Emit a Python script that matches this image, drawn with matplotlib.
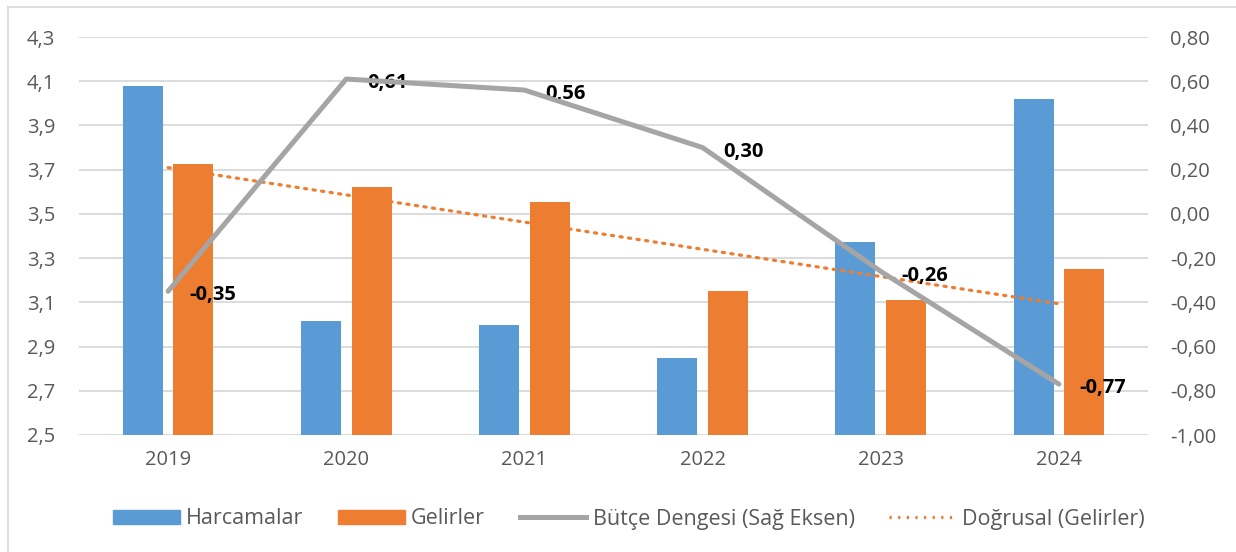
import matplotlib.pyplot as plt
import numpy as np
from matplotlib.ticker import FuncFormatter, FixedLocator
from matplotlib.lines import Line2D

years = ['2019', '2020', '2021', '2022', '2023', '2024']
harcamalar = [4.08, 3.015, 2.998, 2.85, 3.372, 4.02]
gelirler = [3.725, 3.62, 3.553, 3.15, 3.11, 3.25]
denge = [-0.35, 0.61, 0.56, 0.30, -0.26, -0.77]
denge_labels = ['-0,35', '0,61', '0,56', '0,30', '-0,26', '-0,77']

plt.rcParams['font.family'] = ['Open Sans', 'DejaVu Sans']
gray_txt = '#595959'
fs = 14.5
dots = (0, (0.7, 2.0))

fig = plt.figure(figsize=(12.36, 5.52), dpi=100)
ax = fig.add_axes([79/1236, 1-435/552, (1148-79)/1236, (435-37)/552])
ax2 = ax.twinx()

x = np.arange(len(years))
w = 0.225
ax.bar(x - 0.142, harcamalar, w, color='#5b9bd5', label='Harcamalar', zorder=2)
ax.bar(x + 0.142, gelirler, w, color='#ed7d31', label='Gelirler', zorder=2)

# linear trend of Gelirler
k, b = np.polyfit(x, gelirler, 1)
ax.plot(x, k*x + b, color='#ed7d31', lw=2.3, ls=dots,
        dash_capstyle='round', zorder=3)

ax2.plot(x, denge, color='#a5a5a5', lw=3.6, solid_capstyle='round', zorder=4)
for xi, yi, t in zip(x, denge, denge_labels):
    ax2.annotate(t, (xi, yi), xytext=(15, -3), textcoords='offset points',
                 ha='left', va='center', fontsize=fs, fontweight='bold',
                 color='black')

ax.set_xlim(-0.5, len(years) - 0.5)
ax.set_ylim(2.5, 4.3)
ax2.set_ylim(-1.0, 0.8)
ax.yaxis.set_major_locator(FixedLocator(np.linspace(2.5, 4.3, 10)))
ax2.yaxis.set_major_locator(FixedLocator(np.linspace(-1.0, 0.8, 10)))
ax.yaxis.set_major_formatter(FuncFormatter(lambda v, p: f'{v:.1f}'.replace('.', ',')))
ax2.yaxis.set_major_formatter(FuncFormatter(lambda v, p: f'{v:.2f}'.replace('.', ',')))
ax.set_xticks(x)
ax.set_xticklabels(years)

ax.grid(axis='y', color='#d9d9d9', lw=1.3, zorder=0)
ax.set_axisbelow(True)
for a in (ax, ax2):
    for s in a.spines.values():
        s.set_visible(False)
    a.tick_params(length=0, labelsize=fs, colors=gray_txt)
ax.tick_params(axis='y', pad=17)
ax.tick_params(axis='x', pad=11)
ax2.tick_params(axis='y', pad=16)
ax.set_zorder(ax2.get_zorder() - 1)
ax.patch.set_visible(False)

handles = [
    plt.Rectangle((0, 0), 1, 1, color='#5b9bd5'),
    plt.Rectangle((0, 0), 1, 1, color='#ed7d31'),
    Line2D([], [], color='#a5a5a5', lw=3.6),
    Line2D([], [], color='#ed7d31', lw=2.3, ls=dots),
]
labels = ['Harcamalar', 'Gelirler', 'Bütçe Dengesi (Sağ Eksen)', 'Doğrusal (Gelirler)']
leg = fig.legend(handles, labels, loc='center', bbox_to_anchor=(629/1236, 1-519/552),
                 ncol=4, frameon=False, fontsize=15.5, handlelength=3.1,
                 handleheight=0.6, columnspacing=1.6, handletextpad=0.3,
                 labelcolor=gray_txt)

# outer frame (top and left edges)
fig.add_artist(Line2D([8/1236, 1], [1-7/552, 1-7/552], color='#d9d9d9', lw=1.2))
fig.add_artist(Line2D([8/1236, 8/1236], [0, 1-7/552], color='#d9d9d9', lw=1.2))

fig.savefig('out.png', dpi=100)
